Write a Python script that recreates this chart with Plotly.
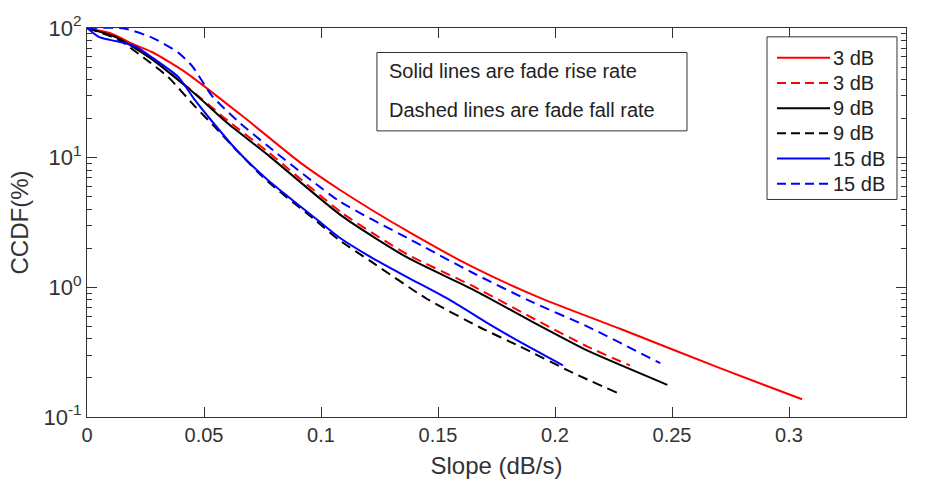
import plotly.graph_objects as go

# CCDF (%) of fade slope for three fade-depth thresholds.
# Solid = fade rise rate, dashed = fade fall rate.
rise_3_x = [0, 0.010, 0.0205, 0.028, 0.042, 0.0675, 0.091, 0.108, 0.1368, 0.165, 0.1936, 0.2278, 0.2705, 0.3056]
rise_3_y = [100, 91, 74, 65, 45.7, 20.2, 9.2, 5.66, 2.72, 1.43, 0.83, 0.479, 0.238, 0.137]

fall_3_x = [0, 0.013, 0.028, 0.042, 0.060, 0.077, 0.109, 0.1368, 0.165, 0.1936, 0.2137, 0.232]
fall_3_y = [100, 84.5, 57.5, 36.2, 19.4, 11.2, 3.75, 1.80, 1.02, 0.54, 0.35, 0.25]

rise_9_x = [0, 0.013, 0.028, 0.042, 0.048, 0.060, 0.077, 0.109, 0.1368, 0.165, 0.1936, 0.2137, 0.248]
rise_9_y = [100, 84, 57, 35.8, 29, 18.5, 10.6, 3.54, 1.70, 0.96, 0.504, 0.326, 0.177]

fall_9_x = [0, 0.013, 0.0248, 0.0346, 0.046, 0.0547, 0.0624, 0.077, 0.098, 0.108, 0.121, 0.145, 0.168, 0.185, 0.2077, 0.2265]
fall_9_y = [100, 82, 58, 42, 25, 17.2, 12.2, 6.6, 3.25, 2.3, 1.6, 0.82, 0.49, 0.35, 0.219, 0.154]

rise_15_x = [0, 0.005, 0.0098, 0.0155, 0.019, 0.022, 0.028, 0.039, 0.046, 0.052, 0.064, 0.077, 0.098, 0.108, 0.122, 0.1368, 0.155, 0.1735, 0.185, 0.2034]
rise_15_y = [100, 85.5, 81, 77, 74, 70, 59, 42, 28, 20.5, 11.4, 6.8, 3.36, 2.41, 1.68, 1.2, 0.8, 0.5, 0.38, 0.25]

fall_15_x = [0, 0.016, 0.028, 0.039, 0.045, 0.0534, 0.0645, 0.077, 0.108, 0.1368, 0.165, 0.1906, 0.2137, 0.245]
fall_15_y = [100, 99, 84, 64.6, 50.7, 30, 19.1, 12.4, 4.6, 2.41, 1.29, 0.765, 0.50, 0.26]

legend_labels = ["3 dB", "3 dB", "9 dB", "9 dB", "15 dB", "15 dB"]
series_x = [rise_3_x, fall_3_x, rise_9_x, fall_9_x, rise_15_x, fall_15_x]
series_y = [rise_3_y, fall_3_y, rise_9_y, fall_9_y, rise_15_y, fall_15_y]
colors = ["#ff0000", "#ff0000", "#000000", "#000000", "#0000ff", "#0000ff"]
DASH = "10px,6px"
dashes = ["solid", DASH, "solid", DASH, "solid", DASH]

x_ticks = [0, 0.05, 0.1, 0.15, 0.2, 0.25, 0.3, 0.35]
x_tick_text = ["0", "0.05", "0.1", "0.15", "0.2", "0.25", "0.3", "0.35"]
y_ticks = [0.1, 1, 10, 100]
y_tick_text = ["10<sup>-1</sup>", "10<sup>0</sup>", "10<sup>1</sup>", "10<sup>2</sup>"]
y_minor = [m * 10 ** k for k in (-1, 0, 1) for m in range(2, 10)]

FONT = "Liberation Sans, Arial, sans-serif"
AXIS = "#333333"
TEXT = "#222222"

fig = go.Figure()
for name, xs, ys, color, dash in zip(legend_labels, series_x, series_y, colors, dashes):
    fig.add_trace(go.Scatter(
        x=xs, y=ys, name=name, mode="lines", showlegend=False,
        line=dict(color=color, width=2, dash=dash, shape="spline", smoothing=0.6),
    ))

fig.update_layout(
    width=925, height=487,
    margin=dict(l=87, r=19, t=23, b=67),
    paper_bgcolor="white", plot_bgcolor="white",
    font=dict(family=FONT, size=20, color="#333333"),
    xaxis=dict(
        range=[0, 0.35], tickvals=x_ticks, ticktext=x_tick_text,
        ticks="inside", ticklen=10, tickcolor=AXIS,
        showline=True, linecolor=AXIS, linewidth=1, mirror="ticks",
        showgrid=False, zeroline=False,
        title=dict(text="Slope (dB/s)", standoff=12),
    ),
    yaxis=dict(
        type="log", range=[-1, 2], tickvals=y_ticks, ticktext=y_tick_text,
        tickfont=dict(size=22),
        ticks="inside", ticklen=10, tickcolor=AXIS,
        minor=dict(tickvals=y_minor, ticks="inside", ticklen=5, tickcolor=AXIS, showgrid=False),
        showline=True, linecolor=AXIS, linewidth=1, mirror="ticks",
        showgrid=False, zeroline=False,
        title=dict(text="CCDF(%)", standoff=8),
    ),
)

# Legend box drawn in paper coordinates
fig.add_shape(type="rect", xref="paper", yref="paper",
              x0=0.8303, x1=0.989, y0=0.5592, y1=0.9773,
              line=dict(color=AXIS, width=1), fillcolor="white")
row_top, row_step = 0.9236, 0.0648
for i, (label, color, dash) in enumerate(zip(legend_labels, colors, dashes)):
    ry = row_top - i * row_step
    fig.add_shape(type="line", xref="paper", yref="paper",
                  x0=0.8425, x1=0.9072, y0=ry, y1=ry,
                  line=dict(color=color, width=2, dash="9px,5px" if dash != "solid" else "solid"))
    fig.add_annotation(xref="paper", yref="paper", x=0.9085, y=ry,
                       xanchor="left", yanchor="middle", showarrow=False,
                       text=label, font=dict(size=20, color=TEXT))

# Note box explaining line styles
fig.add_shape(type="rect", xref="paper", yref="paper",
              x0=0.354, x1=0.7326, y0=0.7355, y1=0.937,
              line=dict(color=AXIS, width=1), fillcolor="white")
fig.add_annotation(xref="paper", yref="paper", x=0.366, y=0.889,
                   xanchor="left", yanchor="middle", showarrow=False,
                   text="Solid lines are fade rise rate",
                   font=dict(size=20, color=TEXT))
fig.add_annotation(xref="paper", yref="paper", x=0.366, y=0.788,
                   xanchor="left", yanchor="middle", showarrow=False,
                   text="Dashed lines are fade fall rate",
                   font=dict(size=20, color=TEXT))

fig.write_html("out.html")
